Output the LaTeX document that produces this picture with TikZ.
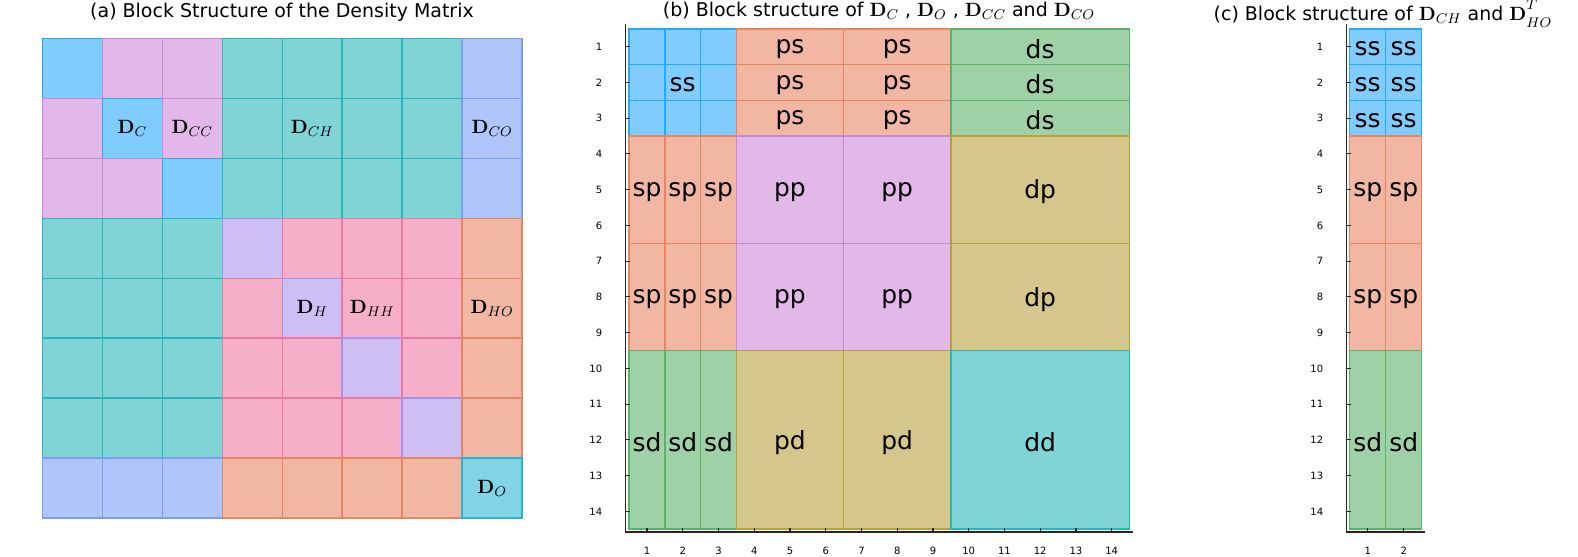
\documentclass[tikz,border=0pt]{standalone}
\usepackage{amsmath}
\usepackage[no-math]{fontspec}
\setmainfont{DejaVu Sans}
\usepackage{tikz}

\definecolor{jblue}{HTML}{009AFA}
\definecolor{jorange}{HTML}{E36F47}
\definecolor{jgreen}{HTML}{3EA44E}
\definecolor{jpurple}{HTML}{C371D2}
\definecolor{jolive}{HTML}{AC8E18}
\definecolor{jteal}{HTML}{00AAAE}
\definecolor{jpink}{HTML}{ED5E93}
\definecolor{jlav}{HTML}{9B7FE9}
\definecolor{jperi}{HTML}{618DF6}
\definecolor{jcyan}{HTML}{00A9CD}

\tikzset{
  blk/.style={fill=#1!50!white, draw=#1!85!white, line width=0.85pt},
  lbl/.style={font=\fontsize{14.2}{15}\selectfont, inner sep=0pt, yshift=-1.3pt},
  mlbl/.style={font=\fontsize{11.2}{12}\selectfont, inner sep=0pt},
  ttl/.style={font=\fontsize{10.8}{12}\selectfont, anchor=base, inner sep=0pt},
  tick/.style={font=\fontsize{5.7}{6}\selectfont, inner sep=0pt},
  axis/.style={draw=black!85, line width=0.6pt}
}

\begin{document}
\begin{tikzpicture}[x=0.02cm, y=-0.02cm]
    \useasboundingbox (0,0) rectangle (1578,557);

    % (a) density matrix
    \begin{scope}[shift={(42.3,38.3)}, x=1.2cm, y=-1.2cm]
        \foreach \rowcols [count=\r from 0] in {
            {jblue,jpurple,jpurple,jteal,jteal,jteal,jteal,jperi},
            {jpurple,jblue,jpurple,jteal,jteal,jteal,jteal,jperi},
            {jpurple,jpurple,jblue,jteal,jteal,jteal,jteal,jperi},
            {jteal,jteal,jteal,jlav,jpink,jpink,jpink,jorange},
            {jteal,jteal,jteal,jpink,jlav,jpink,jpink,jorange},
            {jteal,jteal,jteal,jpink,jpink,jlav,jpink,jorange},
            {jteal,jteal,jteal,jpink,jpink,jpink,jlav,jorange},
            {jperi,jperi,jperi,jorange,jorange,jorange,jorange,jcyan}}
            \foreach \col [count=\c from 0] in \rowcols
                \draw[blk=\col] (\c,\r) rectangle ++(1,1);
        \node[mlbl] (dc) at (1.5,1.5) {$\mathbf{D}_{C}$};
        \node[mlbl] (dcc) at (2.5,1.5) {$\mathbf{D}_{CC}$};
        \node[mlbl] (dch) at (4.5,1.5) {$\mathbf{D}_{CH}$};
        \node[mlbl] (dco) at (7.5,1.5) {$\mathbf{D}_{CO}$};
        \node[mlbl] (dh) at (4.5,4.5) {$\mathbf{D}_{H}$};
        \node[mlbl] (dhh) at (5.5,4.5) {$\mathbf{D}_{HH}$};
        \node[mlbl] (dho) at (7.5,4.5) {$\mathbf{D}_{HO}$};
        \node[mlbl] (do) at (7.5,7.5) {$\mathbf{D}_{O}$};
    \end{scope}
    \node[ttl] (ttla) at (282,18) {(a) Block Structure of the Density Matrix};

    % (b) carbon / oxygen blocks
    \begin{scope}[shift={(629.1,28.8)}, x=0.715cm, y=-0.715cm]
        \foreach \i in {0,1,2}
            \foreach \j in {0,1,2}
                \draw[blk=jblue] (\j,\i) rectangle ++(1,1);
        \node[lbl] (ss) at (1.5,1.5) {ss};
        \foreach \i in {0,1,2} {
            \draw[blk=jorange] (3,\i) rectangle ++(3,1);
            \draw[blk=jorange] (6,\i) rectangle ++(3,1);
            \draw[blk=jgreen] (9,\i) rectangle ++(5,1);
            \node[lbl] (psa\i) at (4.5,\i+0.5) {ps};
            \node[lbl] (psb\i) at (7.5,\i+0.5) {ps};
            \node[lbl] (ds\i) at (11.5,\i+0.5) {ds};
        }
        \foreach \i in {3,6} {
            \foreach \j in {0,1,2} {
                \draw[blk=jorange] (\j,\i) rectangle ++(1,3);
                \node[lbl] (sp\i\j) at (\j+0.5,\i+1.5) {sp};
            }
            \draw[blk=jpurple] (3,\i) rectangle ++(3,3);
            \draw[blk=jpurple] (6,\i) rectangle ++(3,3);
            \draw[blk=jolive] (9,\i) rectangle ++(5,3);
            \node[lbl] (ppa\i) at (4.5,\i+1.5) {pp};
            \node[lbl] (ppb\i) at (7.5,\i+1.5) {pp};
            \node[lbl] (dp\i) at (11.5,\i+1.5) {dp};
        }
        \foreach \j in {0,1,2} {
            \draw[blk=jgreen] (\j,9) rectangle ++(1,5);
            \node[lbl] (sd\j) at (\j+0.5,11.5) {sd};
        }
        \draw[blk=jolive] (3,9) rectangle ++(3,5);
        \draw[blk=jolive] (6,9) rectangle ++(3,5);
        \draw[blk=jteal] (9,9) rectangle ++(5,5);
        \node[lbl] (pda) at (4.5,11.5) {pd};
        \node[lbl] (pdb) at (7.5,11.5) {pd};
        \node[lbl] (dd) at (11.5,11.5) {dd};
    \end{scope}
    \draw[axis] (625.7,24) -- (625.7,532) -- (1133,532);
    \foreach \k in {1,...,14} {
        \draw[axis] ({629.1+35.75*(\k-0.5)},532) -- ++(0,-4);
        \draw[axis] (625.7,{28.8+35.75*(\k-0.5)}) -- ++(4,0);
        \node[tick] (bx\k) at ({629.1+35.75*(\k-0.5)},551) {\k};
        \node[tick, anchor=east] (by\k) at (602.5,{28.8+35.75*(\k-0.5)}) {\k};
    }
    \node[ttl] (ttlb) at (879,17) {(b) Block structure of $\mathbf{D}_{C}$ , $\mathbf{D}_{O}$ , $\mathbf{D}_{CC}$ and $\mathbf{D}_{CO}$};

    % (c) off-diagonal blocks
    \begin{scope}[shift={(1349.7,28.8)}, x=0.72cm, y=-0.715cm]
        \foreach \j in {0,1} {
            \foreach \i in {0,1,2} {
                \draw[blk=jblue] (\j,\i) rectangle ++(1,1);
                \node[lbl] (css\i\j) at (\j+0.5,\i+0.5) {ss};
            }
            \foreach \i in {3,6} {
                \draw[blk=jorange] (\j,\i) rectangle ++(1,3);
                \node[lbl] (csp\i\j) at (\j+0.5,\i+1.5) {sp};
            }
            \draw[blk=jgreen] (\j,9) rectangle ++(1,5);
            \node[lbl] (csd\j) at (\j+0.5,11.5) {sd};
        }
    \end{scope}
    \draw[axis] (1346.7,24) -- (1346.7,532) -- (1425,532);
    \foreach \k in {1,2} {
        \draw[axis] ({1349.7+36*(\k-0.5)},532) -- ++(0,-4);
        \node[tick] (cx\k) at ({1349.7+36*(\k-0.5)},551) {\k};
    }
    \foreach \k in {1,...,14} {
        \draw[axis] (1346.7,{28.8+35.75*(\k-0.5)}) -- ++(4,0);
        \node[tick, anchor=east] (cy\k) at (1323.5,{28.8+35.75*(\k-0.5)}) {\k};
    }
    \node[ttl] (ttlc) at (1383,21) {(c) Block structure of $\mathbf{D}_{CH}$ and $\mathbf{D}^{\raisebox{2.5pt}{$\scriptstyle T$}}_{\raisebox{-1pt}{$\scriptstyle HO$}}$};
\end{tikzpicture}
\end{document}
